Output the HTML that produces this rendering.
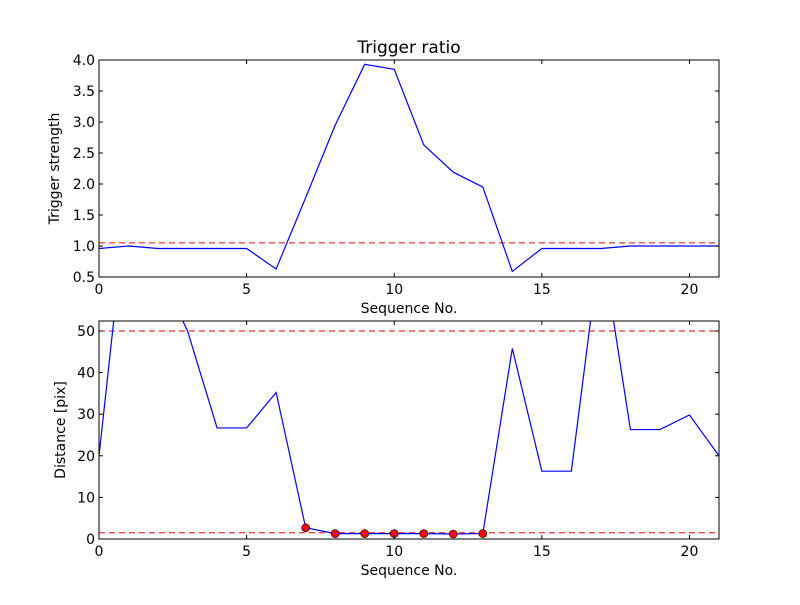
<!DOCTYPE html>
<html><head><meta charset="utf-8"><style>
body{margin:0;background:#fff}
svg text{font-family:"DejaVu Sans","Liberation Sans",sans-serif;fill:#000}
</style></head><body>
<svg id="fig" width="800" height="600" xmlns="http://www.w3.org/2000/svg">
<rect width="800" height="600" fill="#fff"/>
<defs>
<clipPath id="c1"><rect x="99" y="60" width="620" height="217"/></clipPath>
<clipPath id="c2"><rect x="99" y="321" width="620" height="218"/></clipPath>
</defs>
<text x="409" y="53" font-size="17" text-anchor="middle">Trigger ratio</text>
<g id="top"></g>
<g id="bot"></g>
</svg>
<script>
const xs = [0,1,2,3,4,5,6,7,8,9,10,11,12,13,14,15,16,17,18,19,20,21];
const triggerVals = [0.96,1.0,0.96,0.96,0.96,0.96,0.63,1.78,2.95,3.93,3.85,2.63,2.19,1.95,0.59,0.96,0.96,0.96,1.0,1.0,1.0,1.0];
const triggerThreshold = [1.05];
const distVals = [20,85,65,50,26.7,26.7,35.2,2.7,1.3,1.3,1.3,1.3,1.2,1.3,45.8,16.3,16.3,72,26.3,26.3,29.8,20];
const distThresholds = [50,1.5];
const markerIdx = [7,8,9,10,11,12,13];
const xTicks = [0,5,10,15,20];
const topYTicks = ["0.5","1.0","1.5","2.0","2.5","3.0","3.5","4.0"];
const botYTicks = ["0","10","20","30","40","50"];
const NS="http://www.w3.org/2000/svg";
function mk(tag,attrs,parent,txt){const e=document.createElementNS(NS,tag);for(const k in attrs)e.setAttribute(k,attrs[k]);if(txt!==undefined)e.textContent=txt;parent.appendChild(e);return e;}
function drawAxes(g,L,T,W,H,xmin,xmax,ymin,ymax,yticks,ylabel,yLabX,clip,vals,thr,markers){
  const sx=v=>L+(v-xmin)/(xmax-xmin)*W;
  const sy=v=>T+H-(v-ymin)/(ymax-ymin)*H;
  const dg=mk('g',{'clip-path':'url(#'+clip+')'},g);
  thr.forEach(t=>{const l=mk('line',{x1:L,x2:L+W,y1:sy(t),y2:sy(t),stroke:'#f00','stroke-dasharray':'6,4','stroke-width':1},dg);
    
    });
  const p=mk('polyline',{points:xs.map((x,i)=>sx(x)+','+sy(vals[i])).join(' '),fill:'none',stroke:'#00f','stroke-width':1.2},dg);
  
  
  if(markers) markers.forEach(i=>{const c=mk('circle',{cx:sx(xs[i]),cy:sy(vals[i]),r:4,fill:'#f00',stroke:'#000','stroke-width':0.6},dg);
    
    });
  const fr=mk('rect',{x:L,y:T,width:W,height:H,fill:'none',stroke:'#000','stroke-width':1},g);
  
  
  xTicks.forEach(t=>{const x=sx(t);
    mk('line',{x1:x,x2:x,y1:T+H,y2:T+H-4,stroke:'#000'},g);mk('line',{x1:x,x2:x,y1:T,y2:T+4,stroke:'#000'},g);
    const tx=mk('text',{x:x,y:T+H+17,'font-size':14,'text-anchor':'middle'},g,String(t));
    
    });
  yticks.forEach(s=>{const y=sy(parseFloat(s));
    mk('line',{x1:L,x2:L+4,y1:y,y2:y,stroke:'#000'},g);mk('line',{x1:L+W,x2:L+W-4,y1:y,y2:y,stroke:'#000'},g);
    const tx=mk('text',{x:L-4,y:y+5,'font-size':14,'text-anchor':'end'},g,s);
    
    });
  const xl=mk('text',{x:L+W/2,y:T+H+36,'font-size':14,'text-anchor':'middle'},g,'Sequence No.');
  
  
  const yl=mk('text',{x:0,y:0,'font-size':14,'text-anchor':'middle',transform:'translate('+yLabX+','+(T+H/2)+') rotate(-90)'},g,ylabel);
  
  
}
drawAxes(document.getElementById('top'),99,60,620,217,0,21,0.5,4.0,topYTicks,'Trigger strength',59,'c1',triggerVals,triggerThreshold,null);
drawAxes(document.getElementById('bot'),99,321,620,218,0,21,0,52.4,botYTicks,'Distance [pix]',65,'c2',distVals,distThresholds,markerIdx);
</script>
</body></html>
